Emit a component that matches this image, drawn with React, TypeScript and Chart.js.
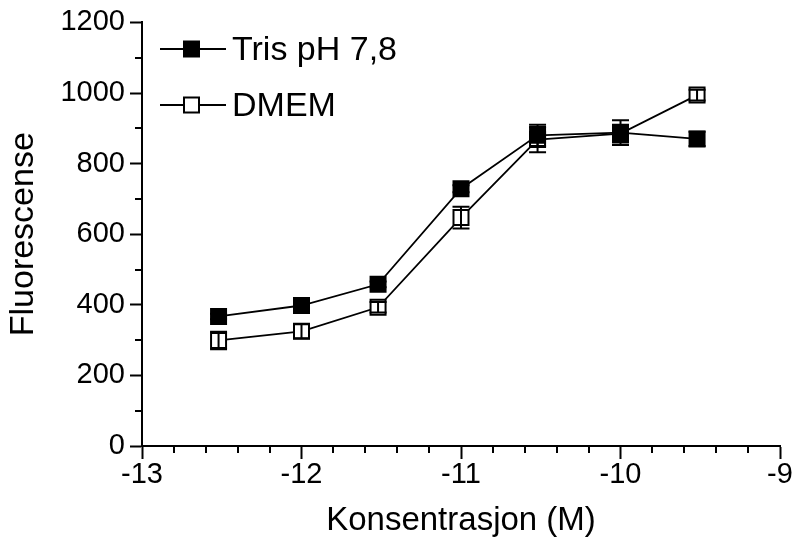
import { useEffect, useRef } from 'react';
import { Chart, registerables } from 'chart.js';

Chart.register(...registerables);

const xValues = [-12.52, -12, -11.52, -11, -10.52, -10, -9.52];
const trisValues = [367, 398, 458, 729, 880, 888, 870];
const trisErrors = [8, 8, 8, 10, 30, 35, 20];
const dmemValues = [299, 325, 393, 647, 868, 885, 994];
const dmemErrors = [25, 20, 15, 31, 36, 25, 15];
const seriesLabels = ['Tris pH 7,8', 'DMEM'];
const seriesFills = ['#000000', '#ffffff'];
const xTitle = 'Konsentrasjon (M)';
const yTitle = 'Fluorescense';
const xMin = -13;
const xMax = -9;
const xStep = 1;
const xMinorStep = 0.2;
const yMin = 0;
const yMax = 1200;
const yStep = 200;
const yMinorStep = 100;

const FONT = '"Liberation Sans", Arial, sans-serif';
const MARK_HALF = 7.5;

const errorsBySeries = [trisErrors, dmemErrors];

const minorTicksPlugin = {
  id: 'minorTicks',
  afterDraw(chart: any) {
    const ctx = chart.ctx;
    const xs = chart.scales.x;
    const ys = chart.scales.y;
    ctx.save();
    ctx.strokeStyle = '#000';
    ctx.lineWidth = 2;
    ctx.beginPath();
    const nx = Math.round((xMax - xMin) / xMinorStep);
    for (let i = 1; i < nx; i++) {
      const v = xMin + i * xMinorStep;
      if (Math.abs(v / xStep - Math.round(v / xStep)) < 1e-6) continue;
      const px = Math.round(xs.getPixelForValue(v));
      ctx.moveTo(px, xs.top);
      ctx.lineTo(px, xs.top + 7);
    }
    const ny = Math.round((yMax - yMin) / yMinorStep);
    for (let i = 1; i < ny; i++) {
      const v = yMin + i * yMinorStep;
      if (Math.abs(v / yStep - Math.round(v / yStep)) < 1e-6) continue;
      const py = Math.round(ys.getPixelForValue(v));
      ctx.moveTo(ys.right, py);
      ctx.lineTo(ys.right - 7, py);
    }
    ctx.stroke();
    ctx.restore();
  },
};

const errorBarsPlugin = {
  id: 'errorBars',
  afterDatasetsDraw(chart: any) {
    const ctx = chart.ctx;
    const xs = chart.scales.x;
    const ys = chart.scales.y;
    ctx.save();
    ctx.strokeStyle = '#000';
    ctx.lineWidth = 2;
    chart.data.datasets.forEach((ds: any, di: number) => {
      const errs = errorsBySeries[di];
      ds.data.forEach((p: any, i: number) => {
        const e = errs[i];
        const px = xs.getPixelForValue(p.x);
        const top = ys.getPixelForValue(p.y + e);
        const bot = ys.getPixelForValue(p.y - e);
        ctx.beginPath();
        ctx.moveTo(px, top);
        ctx.lineTo(px, bot);
        ctx.moveTo(px - 8.5, top);
        ctx.lineTo(px + 8.5, top);
        ctx.moveTo(px - 8.5, bot);
        ctx.lineTo(px + 8.5, bot);
        ctx.stroke();
      });
    });
    ctx.restore();
  },
};

const legendPlugin = {
  id: 'customLegend',
  afterDraw(chart: any) {
    const ctx = chart.ctx;
    ctx.save();
    chart.data.datasets.forEach((ds: any, i: number) => {
      const y = 49 + i * 56;
      ctx.strokeStyle = '#000';
      ctx.lineWidth = 2;
      ctx.beginPath();
      ctx.moveTo(160, y);
      ctx.lineTo(226, y);
      ctx.stroke();
      ctx.fillStyle = ds.pointBackgroundColor;
      ctx.fillRect(191.5 - MARK_HALF, y - MARK_HALF, MARK_HALF * 2, MARK_HALF * 2);
      ctx.strokeRect(191.5 - MARK_HALF, y - MARK_HALF, MARK_HALF * 2, MARK_HALF * 2);
      ctx.fillStyle = '#000';
      ctx.font = `34px ${FONT}`;
      ctx.textBaseline = 'middle';
      ctx.textAlign = 'left';
      ctx.fillText(ds.label, 232, y + 1.5);
    });
    ctx.restore();
  },
};

export default function App() {
  const ref = useRef<HTMLCanvasElement>(null);
  useEffect(() => {
    if (!ref.current) return;
    const series = [trisValues, dmemValues];
    const chart = new Chart(ref.current, {
      type: 'line',
      data: {
        datasets: series.map((vals, si) => ({
          label: seriesLabels[si],
          data: xValues.map((x, i) => ({ x, y: vals[i] })),
          borderColor: '#000',
          borderWidth: 1.8,
          pointStyle: 'rect',
          pointRadius: MARK_HALF * Math.SQRT2,
          pointHoverRadius: MARK_HALF * Math.SQRT2,
          pointBackgroundColor: seriesFills[si],
          pointBorderColor: '#000',
          pointBorderWidth: 2,
          fill: false,
          tension: 0,
        })),
      },
      options: {
        animation: false,
        responsive: false,
        events: [],
        layout: { padding: { left: 0, top: 21, right: 16, bottom: 0 } },
        plugins: { legend: { display: false }, tooltip: { enabled: false } },
        scales: {
          x: {
            type: 'linear',
            min: xMin,
            max: xMax,
            afterFit: (s: any) => { s.height = 97; },
            ticks: {
              stepSize: xStep,
              color: '#000',
              font: { family: FONT, size: 29 },
              padding: -1,
              maxRotation: 0,
              callback: (v: any) => String(v),
            },
            grid: { drawOnChartArea: false, drawTicks: true, tickLength: 13, tickColor: '#000', tickWidth: 2 },
            border: { color: '#000', width: 2 },
            title: { display: true, text: xTitle, color: '#000', font: { family: FONT, size: 33 }, padding: { top: 0, bottom: 2 } },
          },
          y: {
            type: 'linear',
            min: yMin,
            max: yMax,
            afterFit: (s: any) => { s.width = 142; },
            ticks: {
              stepSize: yStep,
              color: '#000',
              font: { family: FONT, size: 29 },
              padding: 5,
              callback: (v: any) => String(v),
            },
            grid: { drawOnChartArea: false, drawTicks: true, tickLength: 12, tickColor: '#000', tickWidth: 2 },
            border: { color: '#000', width: 2 },
            title: { display: true, text: yTitle, color: '#000', font: { family: FONT, size: 34 }, padding: { top: 3, bottom: 0 } },
          },
        },
      },
      plugins: [minorTicksPlugin, errorBarsPlugin, legendPlugin],
    } as any);
    return () => chart.destroy();
  }, []);
  return (
    <div style={{ position: 'fixed', left: 0, top: 0, width: 796, height: 543, background: '#fff' }}>
      <canvas ref={ref} width={796} height={543} style={{ display: 'block' }} />
    </div>
  );
}
